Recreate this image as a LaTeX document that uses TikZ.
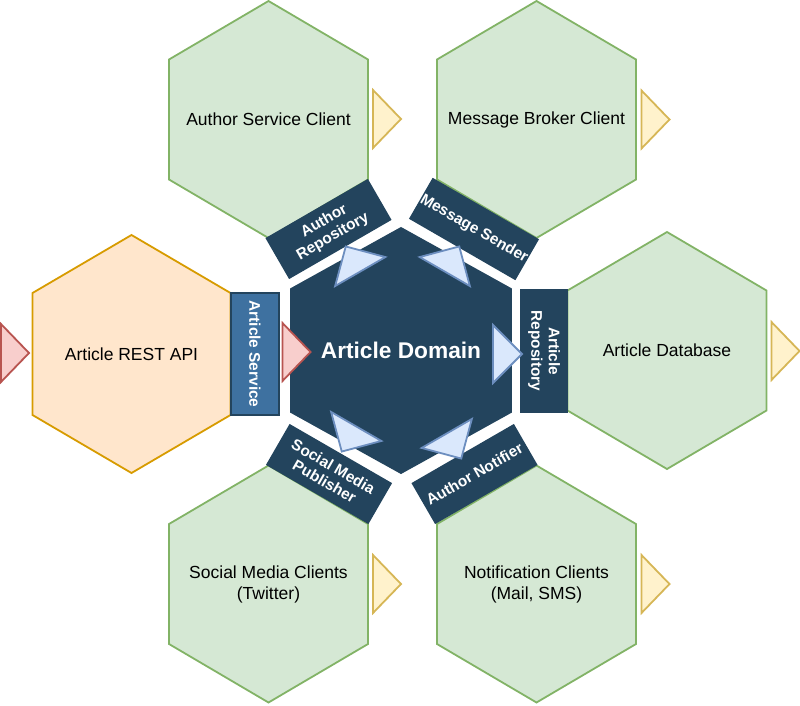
\documentclass[tikz,border=0pt]{standalone}
\usepackage{fontspec}
\setmainfont{Liberation Sans}
\definecolor{hexgreen}{HTML}{D5E8D4}
\definecolor{hexgreenline}{HTML}{82B366}
\definecolor{hexorange}{HTML}{FFE6CC}
\definecolor{hexorangeline}{HTML}{D79B00}
\definecolor{portyellow}{HTML}{FFF2CC}
\definecolor{portyellowline}{HTML}{D6B656}
\definecolor{portred}{HTML}{F8CECC}
\definecolor{portredline}{HTML}{B85450}
\definecolor{portblue}{HTML}{DAE8FC}
\definecolor{portblueline}{HTML}{6C8EBF}
\definecolor{domainblue}{HTML}{23445D}
\definecolor{serviceblue}{HTML}{3E71A0}
\begin{document}
\begin{tikzpicture}[
        x = 1pt, y = -1pt,
        line width = 1.8pt,
        clienthex/.style = {draw = hexgreenline, fill = hexgreen},
        apihex/.style = {draw = hexorangeline, fill = hexorange},
        domainhex/.style = {draw = domainblue, fill = domainblue},
        outport/.style = {draw = portyellowline, fill = portyellow},
        inport/.style = {draw = portredline, fill = portred},
        domainport/.style = {draw = portblueline, fill = portblue},
        adapter/.style = {draw = domainblue, line width = 1.3pt, fill = domainblue, text = white,
            font = \bfseries\fontsize{15.4}{17.5}\selectfont, align = center,
            inner sep = 0pt, minimum width = 117pt, minimum height = 46pt},
        hextext/.style = {font = \fontsize{17.5}{21}\selectfont, align = center}
    ]
        \useasboundingbox (0,0) rectangle (800,705);

        % outer hexagons
        \begin{scope}[shift={(268.5,119.5)}]
            \draw[clienthex] (0,-118.5)--(99.5,-60)--(99.5,60)--(0,118.5)--(-99.5,60)--(-99.5,-60)--cycle;
            \node[hextext] (authorclient) at (0,0) {Author Service Client};
        \end{scope}
        \begin{scope}[shift={(536.5,119.5)}]
            \draw[clienthex] (0,-118.5)--(99.5,-60)--(99.5,60)--(0,118.5)--(-99.5,60)--(-99.5,-60)--cycle;
            \node[hextext] (brokerclient) at (0,0) {Message Broker Client};
        \end{scope}
        \begin{scope}[shift={(667,350.5)}]
            \draw[clienthex] (0,-118.5)--(99.5,-60)--(99.5,60)--(0,118.5)--(-99.5,60)--(-99.5,-60)--cycle;
            \node[hextext] (database) at (0,0) {Article Database};
        \end{scope}
        \begin{scope}[shift={(268.5,584)}]
            \draw[clienthex] (0,-118.5)--(99.5,-60)--(99.5,60)--(0,118.5)--(-99.5,60)--(-99.5,-60)--cycle;
            \node[hextext] (socialclients) at (0,0) {Social Media Clients\\(Twitter)};
        \end{scope}
        \begin{scope}[shift={(536.5,584)}]
            \draw[clienthex] (0,-118.5)--(99.5,-60)--(99.5,60)--(0,118.5)--(-99.5,60)--(-99.5,-60)--cycle;
            \node[hextext] (notifyclients) at (0,0) {Notification Clients\\(Mail, SMS)};
        \end{scope}
        \begin{scope}[shift={(131.5,354)}]
            \draw[apihex] (0,-119)--(99,-61)--(99,61)--(0,119)--(-99,61)--(-99,-61)--cycle;
            \node[hextext] (restapi) at (0,0) {Article REST API};
        \end{scope}

        % domain
        \begin{scope}[shift={(401,350.5)}]
            \draw[domainhex] (0,-122.5)--(110,-61.5)--(110,61.5)--(0,122.5)--(-110,61.5)--(-110,-61.5)--cycle;
            \node[text = white, font = \bfseries\fontsize{22.7}{26}\selectfont] (domain) at (0,0) {Article Domain};
        \end{scope}

        % adapters
        \node[adapter, rotate = 30] (authorrepo) at (328.5,229) {Author\\Repository};
        \node[adapter, rotate = -30] (sender) at (474,229) {Message Sender};
        \node[adapter, rotate = -30] (publisher) at (329,474) {Social Media\\Publisher};
        \node[adapter, rotate = 30] (notifier) at (474.5,474) {Author Notifier};
        \node[adapter, rotate = -90, minimum width = 122pt] (articlerepo) at (544,351) {Article\\Repository};
        \node[adapter, rotate = -90, fill = serviceblue, minimum width = 122pt, minimum height = 48pt] (articleservice) at (255,354) {Article Service};

        % ports
        \begin{scope}[shift={(15,353)}]
            \draw[inport] (-14,-29)--(14,0)--(-14,29)--cycle;
        \end{scope}
        \begin{scope}[shift={(296.5,352)}]
            \draw[inport] (-14,-29)--(14,0)--(-14,29)--cycle;
        \end{scope}
        \begin{scope}[shift={(387,119)}]
            \draw[outport] (-14,-29)--(14,0)--(-14,29)--cycle;
        \end{scope}
        \begin{scope}[shift={(655.5,119.5)}]
            \draw[outport] (-14,-29)--(14,0)--(-14,29)--cycle;
        \end{scope}
        \begin{scope}[shift={(785.5,351)}]
            \draw[outport] (-14,-29)--(14,0)--(-14,29)--cycle;
        \end{scope}
        \begin{scope}[shift={(387,584)}]
            \draw[outport] (-14,-29)--(14,0)--(-14,29)--cycle;
        \end{scope}
        \begin{scope}[shift={(655.5,584)}]
            \draw[outport] (-14,-29)--(14,0)--(-14,29)--cycle;
        \end{scope}
        \begin{scope}[shift={(507.5,354)}]
            \draw[domainport] (-14.5,-29)--(14.5,0)--(-14.5,29)--cycle;
        \end{scope}
        \begin{scope}[shift={(353,259)}, rotate = 120]
            \draw[domainport] (-14.5,-29)--(14.5,0)--(-14.5,29)--cycle;
        \end{scope}
        \begin{scope}[shift={(452,259)}, rotate = 60]
            \draw[domainport] (-14.5,-29)--(14.5,0)--(-14.5,29)--cycle;
        \end{scope}
        \begin{scope}[shift={(349,439)}, rotate = -120]
            \draw[domainport] (-14.5,-29)--(14.5,0)--(-14.5,29)--cycle;
        \end{scope}
        \begin{scope}[shift={(454,446)}, rotate = -60]
            \draw[domainport] (-14.5,-29)--(14.5,0)--(-14.5,29)--cycle;
        \end{scope}
    \end{tikzpicture}
\end{document}
